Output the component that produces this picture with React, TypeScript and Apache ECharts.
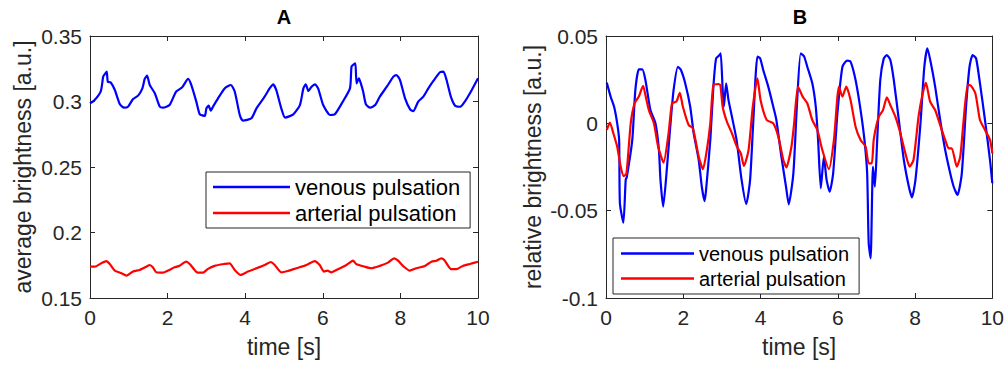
import React, { useEffect, useRef } from "react";
import * as echarts from "echarts";

// ---------- Panel A: average brightness ----------
const tAVen = [0, 0.12, 0.28, 0.34, 0.38, 0.43, 0.46, 0.53, 0.64, 0.77, 0.88, 0.98, 1.11, 1.24, 1.35, 1.41, 1.47, 1.54, 1.67, 1.8, 1.88, 2.05, 2.22, 2.37, 2.53, 2.61, 2.74, 2.83, 2.96, 3.0, 3.06, 3.11, 3.17, 3.3, 3.47, 3.63, 3.73, 3.86, 3.94, 4.16, 4.29, 4.5, 4.63, 4.72, 4.8, 4.93, 5.03, 5.24, 5.41, 5.5, 5.56, 5.63, 5.71, 5.8, 5.88, 6.01, 6.19, 6.31, 6.49, 6.7, 6.74, 6.8, 6.84, 6.87, 6.93, 6.98, 7.04, 7.11, 7.22, 7.35, 7.47, 7.65, 7.82, 7.9, 7.99, 8.12, 8.25, 8.33, 8.46, 8.59, 8.72, 8.85, 9.02, 9.11, 9.19, 9.3, 9.41, 9.54, 9.66, 9.84, 10.0];
const vAVen = [0.2986, 0.3012, 0.308, 0.319, 0.3208, 0.3228, 0.315, 0.3147, 0.3088, 0.2979, 0.2953, 0.296, 0.3019, 0.3045, 0.31, 0.3172, 0.3197, 0.3126, 0.3063, 0.296, 0.2953, 0.2973, 0.3076, 0.3106, 0.3172, 0.3126, 0.2999, 0.2902, 0.289, 0.2948, 0.2968, 0.293, 0.296, 0.3024, 0.31, 0.3126, 0.3076, 0.2897, 0.2854, 0.2872, 0.2948, 0.3037, 0.31, 0.3131, 0.3088, 0.2948, 0.2877, 0.2902, 0.2973, 0.31, 0.3131, 0.308, 0.3113, 0.3131, 0.31, 0.2973, 0.2897, 0.2902, 0.2986, 0.31, 0.3266, 0.3284, 0.3292, 0.3139, 0.3177, 0.3139, 0.3076, 0.2979, 0.2953, 0.2973, 0.3037, 0.3113, 0.319, 0.3202, 0.3164, 0.3024, 0.294, 0.2927, 0.2999, 0.3037, 0.31, 0.3157, 0.3223, 0.3228, 0.3164, 0.3037, 0.2968, 0.296, 0.2999, 0.3088, 0.3177];

const tAArt = [0, 0.12, 0.29, 0.42, 0.51, 0.64, 0.81, 0.94, 1.11, 1.28, 1.45, 1.54, 1.62, 1.71, 1.88, 2.01, 2.18, 2.31, 2.48, 2.57, 2.78, 2.91, 3.04, 3.21, 3.47, 3.6, 3.73, 3.88, 4.07, 4.29, 4.5, 4.66, 4.76, 4.93, 5.1, 5.32, 5.58, 5.79, 5.92, 6.03, 6.12, 6.22, 6.39, 6.61, 6.78, 6.86, 7.08, 7.25, 7.47, 7.68, 7.84, 7.94, 8.09, 8.24, 8.41, 8.63, 8.8, 8.93, 9.05, 9.13, 9.31, 9.44, 9.61, 9.79, 10.0];
const vAArt = [0.1739, 0.1739, 0.1765, 0.1782, 0.176, 0.1709, 0.1689, 0.1671, 0.1702, 0.1714, 0.1739, 0.1752, 0.1734, 0.1696, 0.1693, 0.1709, 0.1734, 0.1747, 0.1777, 0.176, 0.1693, 0.1693, 0.1722, 0.1745, 0.176, 0.1765, 0.1714, 0.1676, 0.1702, 0.1727, 0.1752, 0.1775, 0.1752, 0.1696, 0.1706, 0.1727, 0.1752, 0.1782, 0.1752, 0.1702, 0.1709, 0.1696, 0.172, 0.1752, 0.1785, 0.176, 0.1739, 0.1727, 0.1745, 0.177, 0.1803, 0.1785, 0.1739, 0.1709, 0.1727, 0.1745, 0.1777, 0.1785, 0.1803, 0.179, 0.172, 0.172, 0.1745, 0.176, 0.1777];

// ---------- Panel B: relative brightness ----------
const tBVen = [0.02, 0.12, 0.21, 0.29, 0.34, 0.36, 0.45, 0.51, 0.54, 0.68, 0.76, 0.85, 0.94, 1.02, 1.15, 1.28, 1.37, 1.41, 1.48, 1.58, 1.67, 1.75, 1.86, 1.94, 2.05, 2.18, 2.27, 2.4, 2.48, 2.55, 2.59, 2.7, 2.78, 2.85, 2.94, 2.97, 3.02, 3.05, 3.11, 3.17, 3.26, 3.38, 3.51, 3.63, 3.73, 3.81, 3.92, 3.99, 4.07, 4.2, 4.33, 4.41, 4.54, 4.66, 4.73, 4.85, 4.94, 5.04, 5.13, 5.21, 5.34, 5.43, 5.49, 5.56, 5.64, 5.71, 5.79, 5.88, 5.99, 6.12, 6.24, 6.33, 6.46, 6.59, 6.69, 6.76, 6.8, 6.85, 6.91, 6.96, 7.02, 7.1, 7.19, 7.27, 7.36, 7.45, 7.58, 7.71, 7.84, 7.92, 8.01, 8.14, 8.24, 8.32, 8.41, 8.52, 8.65, 8.78, 8.91, 9.0, 9.1, 9.21, 9.32, 9.41, 9.49, 9.58, 9.68, 9.81, 9.94, 10.0];
const vBVen = [0.0233, 0.0153, 0.0095, 0.0, -0.0095, -0.0458, -0.0569, -0.0324, -0.0306, -0.0095, 0.0191, 0.0309, 0.0309, 0.0248, 0.0076, 0.0, -0.0153, -0.0324, -0.0477, -0.0248, 0.0, 0.0191, 0.0324, 0.0305, 0.0229, 0.0095, -0.0057, -0.021, -0.0363, -0.0445, -0.0382, -0.0095, 0.021, 0.0372, 0.0391, 0.0401, 0.0191, 0.0095, 0.0229, 0.0134, 0.0038, -0.0095, -0.0324, -0.0462, -0.0324, 0.0, 0.0382, 0.0372, 0.0305, 0.021, 0.0095, 0.0019, -0.0191, -0.0363, -0.0464, -0.0286, 0.0095, 0.0401, 0.0382, 0.0324, 0.0229, 0.0095, -0.0095, -0.0372, -0.0191, -0.0324, -0.0391, -0.0286, 0.0057, 0.0324, 0.0359, 0.0353, 0.0248, 0.0076, -0.0095, -0.0286, -0.0687, -0.0773, -0.0248, -0.0363, -0.0095, 0.0248, 0.0372, 0.0391, 0.0363, 0.0248, 0.0019, -0.021, -0.0363, -0.0424, -0.0324, 0.0, 0.0324, 0.043, 0.0344, 0.021, 0.0019, -0.0153, -0.0286, -0.0363, -0.041, -0.0286, 0.0095, 0.0324, 0.0391, 0.0372, 0.0229, 0.0019, -0.021, -0.0343];

const tBArt = [0.02, 0.1, 0.19, 0.29, 0.38, 0.46, 0.53, 0.64, 0.74, 0.85, 0.96, 1.02, 1.11, 1.24, 1.35, 1.49, 1.62, 1.71, 1.82, 1.91, 1.99, 2.14, 2.25, 2.4, 2.51, 2.61, 2.7, 2.78, 2.91, 2.96, 3.02, 3.13, 3.26, 3.38, 3.49, 3.57, 3.69, 3.8, 3.92, 4.0, 4.16, 4.33, 4.46, 4.59, 4.67, 4.8, 4.87, 4.97, 5.09, 5.21, 5.34, 5.47, 5.6, 5.77, 5.9, 6.03, 6.12, 6.22, 6.33, 6.46, 6.59, 6.72, 6.8, 6.88, 6.93, 7.06, 7.17, 7.27, 7.36, 7.49, 7.62, 7.75, 7.86, 7.96, 8.09, 8.18, 8.28, 8.39, 8.52, 8.65, 8.78, 8.87, 8.95, 9.08, 9.17, 9.25, 9.36, 9.42, 9.56, 9.68, 9.81, 9.94, 10.0];
const vBArt = [-0.0038, 0.0004, -0.0057, -0.0134, -0.0248, -0.0302, -0.0286, 0.0, 0.0115, 0.0153, 0.0214, 0.0162, 0.0076, 0.0, -0.0134, -0.0225, -0.0057, 0.0115, 0.0124, 0.0175, 0.0095, -0.001, -0.0029, -0.0191, -0.0263, -0.0153, 0.0, 0.0219, 0.0225, 0.0219, 0.0095, 0.0009, -0.0057, -0.013, -0.0172, -0.0244, -0.0153, 0.0095, 0.0258, 0.0134, 0.0019, 0.0, -0.0076, -0.021, -0.0252, -0.0134, 0.0, 0.021, 0.0153, 0.0115, 0.0019, -0.0038, -0.0153, -0.0263, -0.0095, 0.021, 0.0153, 0.021, 0.0134, -0.0019, -0.0095, -0.0134, -0.0229, -0.0229, -0.0095, 0.0038, 0.0076, 0.0149, 0.0105, 0.0038, -0.0057, -0.0172, -0.0248, -0.021, 0.0038, 0.0153, 0.0233, 0.0124, 0.0076, -0.001, -0.0095, -0.0143, -0.0143, -0.0248, -0.0191, 0.0, 0.0219, 0.0219, 0.0172, 0.0019, -0.0038, -0.0095, -0.0172];

const seriesNames = ["venous pulsation", "arterial pulsation"];
const xTicks = { min: 0, max: 10, interval: 2 };
const yTicksA = { min: 0.15, max: 0.35, interval: 0.05 };
const yTicksB = { min: -0.1, max: 0.05, interval: 0.05 };
const titles = ["A", "B"];
const xName = "time [s]";
const yNames = ["average brightness [a.u.]", "relative brightness [a.u.]"];

const FONT = "Liberation Sans, Arial, Helvetica, sans-serif";
const AX = "#262626";
const BLUE = "#0000ff";
const RED = "#ff0000";

const zip = (t: number[], v: number[]) => t.map((x, i) => [x, v[i]]);

export default function App() {
  const ref = useRef<HTMLDivElement>(null);
  useEffect(() => {
    if (!ref.current) return;
    const chart = echarts.init(ref.current, null, { renderer: "svg" });
    const grids = [
      { left: 90, top: 36, width: 388, height: 262 },
      { left: 606, top: 36, width: 388, height: 262 },
    ];
    const axisLine = { show: true, onZero: false, lineStyle: { color: AX, width: 1 } };
    const tick = { show: true, inside: true, length: 5, lineStyle: { color: AX } };
    const label = { color: AX, fontSize: 21, fontFamily: FONT };
    const nameStyle = { color: AX, fontSize: 23, fontFamily: FONT };
    const xAxis: any[] = [];
    const yAxis: any[] = [];
    [0, 1].forEach((g) => {
      xAxis.push({
        type: "value", gridIndex: g, position: "bottom", ...xTicks,
        axisLine, axisTick: tick, splitLine: { show: false },
        axisLabel: { ...label, margin: 9 },
        name: xName, nameLocation: "middle", nameGap: 37, nameTextStyle: nameStyle,
      });
      xAxis.push({
        type: "value", gridIndex: g, position: "top", ...xTicks,
        axisLine, axisTick: tick, splitLine: { show: false }, axisLabel: { show: false },
      });
      const yt = g === 0 ? yTicksA : yTicksB;
      yAxis.push({
        type: "value", gridIndex: g, position: "left", ...yt,
        axisLine, axisTick: tick, splitLine: { show: false },
        axisLabel: { ...label, margin: 8 },
        name: yNames[g], nameLocation: "middle", nameRotate: 90,
        nameGap: g === 0 ? 56 : 62, nameTextStyle: nameStyle,
      });
      yAxis.push({
        type: "value", gridIndex: g, position: "right", ...yt,
        axisLine, axisTick: tick, splitLine: { show: false }, axisLabel: { show: false },
      });
    });
    const mk = (name: string, color: string, data: number[][], g: number) => ({
      type: "line", name, data, xAxisIndex: g * 2, yAxisIndex: g * 2,
      showSymbol: false, symbol: "none", smooth: 0.2,
      lineStyle: { color, width: 2.2 }, itemStyle: { color },
    });
    const legendBase = {
      orient: "vertical", data: seriesNames, borderColor: AX, borderWidth: 1,
      backgroundColor: "#ffffff", icon: "rect", itemHeight: 2.5,
      selectedMode: false,
    };
    chart.setOption({
      animation: false,
      grid: grids,
      xAxis, yAxis,
      legend: [
        {
          ...legendBase, left: 206, top: 172, padding: [3, 10, 3, 7], itemWidth: 77, itemGap: 2,
          textStyle: { color: "#000", fontSize: 22, fontFamily: FONT, lineHeight: 24 },
        },
        {
          ...legendBase, left: 613, top: 238, padding: [5, 10, 5, 8], itemWidth: 73, itemGap: 4,
          textStyle: { color: "#000", fontSize: 20, fontFamily: FONT, lineHeight: 21 },
        },
      ],
      graphic: titles.map((t, i) => ({
        type: "text", x: grids[i].left + 194, y: 17,
        style: { text: t, textAlign: "center", textVerticalAlign: "middle", font: `bold 20px ${FONT}`, fill: "#000" },
      })),
      series: [
        mk(seriesNames[0], BLUE, zip(tAVen, vAVen), 0),
        mk(seriesNames[1], RED, zip(tAArt, vAArt), 0),
        mk(seriesNames[0], BLUE, zip(tBVen, vBVen), 1),
        mk(seriesNames[1], RED, zip(tBArt, vBArt), 1),
      ],
    });
    return () => chart.dispose();
  }, []);
  return (
    <div
      ref={ref}
      style={{ position: "absolute", left: 0, top: 0, width: 1007, height: 369, background: "#fff" }}
    />
  );
}
